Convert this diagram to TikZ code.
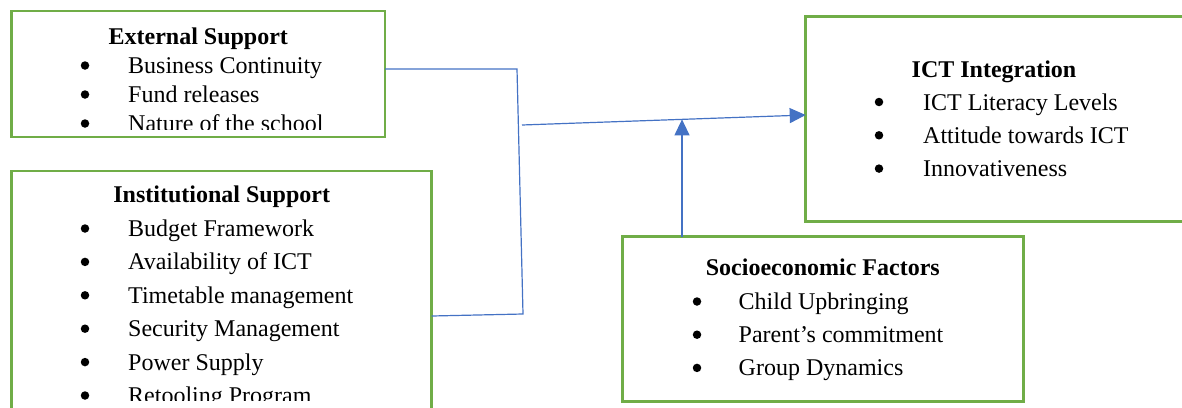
\documentclass[tikz,border=0pt]{standalone}
\usepackage{fontspec}
\setmainfont{Liberation Serif}
\usetikzlibrary{arrows.meta}
\definecolor{boxgreen}{HTML}{70AD47}
\definecolor{linkblue}{HTML}{4472C4}
\begin{document}
\begin{tikzpicture}[x=1pt,y=-1pt,
  box/.style={draw=boxgreen, line width=2.8pt, rectangle, inner sep=0pt, outer sep=0pt, anchor=north west},
  link/.style={draw=linkblue, line width=1.2pt},
  arr/.style={link, -{Triangle[length=16pt,width=15pt]}},
  boxtitle/.style={font=\fontsize{24}{28}\selectfont\bfseries, anchor=base, inner sep=0pt},
  itemtext/.style={font=\fontsize{24}{28}\selectfont, anchor=base west, inner sep=0pt},
  bul/.style={circle, fill=black, draw=none, inner sep=0pt, minimum size=8.5pt}
]
\useasboundingbox (0,0) rectangle (1182,407);
\clip (0,0) rectangle (1182,407);

% boxes
\node[box, minimum width=373.3pt, minimum height=126pt] (ext) at (11.7,11) {};
\node[box, minimum width=420pt, minimum height=290pt] (inst) at (11.7,171) {};
\node[box, minimum width=378.3pt, minimum height=205pt] (ict) at (805.7,16.7) {};
\node[box, minimum width=401pt, minimum height=165pt] (socio) at (622.3,236.7) {};

% External Support
\node[boxtitle] (extt) at (198.3,44) {External Support};
\begin{scope}
\clip (11.7,11) rectangle (385,129);
\foreach [count=\i] \t in {Business Continuity, Fund releases, Nature of the school} {
  \node[bul] (extb\i) at (85,{73.5+29*(\i-1)-8}) {};
  \node[itemtext] (exti\i) at (128,{73.5+29*(\i-1)}) {\t};
}
\end{scope}

% Institutional Support
\node[boxtitle] (instt) at (221.7,202.7) {Institutional Support};
\begin{scope}
\clip (11.7,171) rectangle (431.7,400);
\foreach [count=\i] \t in {Budget Framework, Availability of ICT, Timetable management, Security Management, Power Supply, Retooling Program} {
  \node[bul] (instb\i) at (85,{236.5+33.4*(\i-1)-8}) {};
  \node[itemtext] (insti\i) at (128,{236.5+33.4*(\i-1)}) {\t};
}
\end{scope}

% ICT Integration
\node[boxtitle] (ictt) at (994,77.3) {ICT Integration};
\foreach [count=\i] \t in {ICT Literacy Levels, Attitude towards ICT, Innovativeness} {
  \node[bul] (ictb\i) at (879,{110+33.3*(\i-1)-8}) {};
  \node[itemtext] (icti\i) at (923,{110+33.3*(\i-1)}) {\t};
}

% Socioeconomic Factors
\node[boxtitle] (sociot) at (822.8,275.7) {Socioeconomic Factors};
\foreach [count=\i] \t in {Child Upbringing, Parent’s commitment, Group Dynamics} {
  \node[bul] (sociob\i) at (697,{309.5+33.2*(\i-1)-8}) {};
  \node[itemtext] (socioi\i) at (738.5,{309.5+33.2*(\i-1)}) {\t};
}

% connectors
\coordinate (j1) at (517,69);
\coordinate (j2) at (523,314);
\coordinate (j3) at (522,125);
\draw[link] ([yshift=5pt]ext.east) -- (j1) -- (j2) -- (inst.east);
\draw[arr] (j3) -- ([yshift=4.2pt]ict.west);
\path (j3) -- ([yshift=4.2pt]ict.west) coordinate[pos=0.564] (m);
\draw[arr] (socio.north -| m) -- (m);
\end{tikzpicture}
\end{document}
